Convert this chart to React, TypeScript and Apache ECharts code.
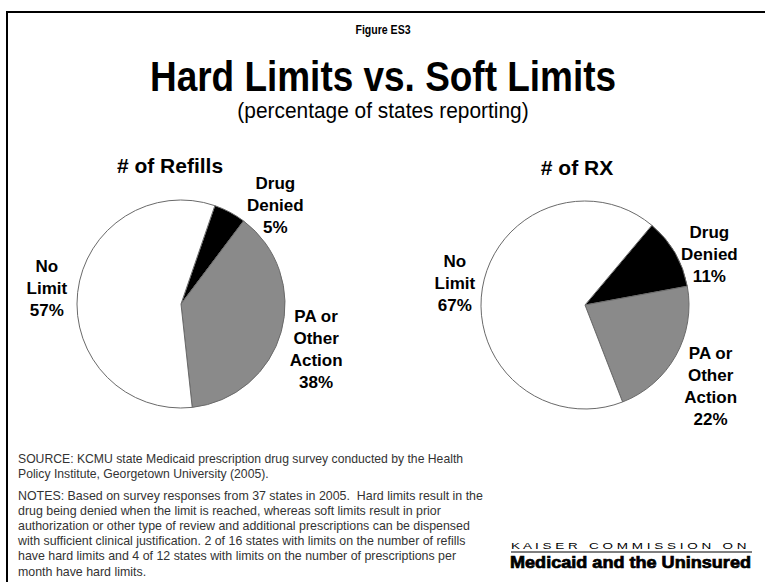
import React, { useEffect, useRef } from "react";
import * as echarts from "echarts";

const categories = ["Drug Denied", "PA or Other Action", "No Limit"];
const labelNames = ["Drug\nDenied", "PA or\nOther\nAction", "No\nLimit"];
const refillsValues = [5, 38, 57];
const rxValues = [11, 22, 67];
const pieTitles = ["# of Refills", "# of RX"];
const sliceColors = ["#000000", "#8a8a8a", "#ffffff"];

const figureLabel = "Figure ES3";
const mainTitle = "Hard Limits vs. Soft Limits";
const subTitle = "(percentage of states reporting)";

const sourceLines = [
  "SOURCE: KCMU state Medicaid prescription drug survey conducted by the Health",
  "Policy Institute, Georgetown University (2005).",
];
const notesLines = [
  "NOTES: Based on survey responses from 37 states in 2005.  Hard limits result in the",
  "drug being denied when the limit is reached, whereas soft limits result in prior",
  "authorization or other type of review and additional prescriptions can be dispensed",
  "with sufficient clinical justification. 2 of 16 states with limits on the number of refills",
  "have hard limits and 4 of 12 states with limits on the number of prescriptions per",
  "month have hard limits.",
];
const logoTop = "K A I S E R   C O M M I S S I O N   O N";
const logoBottom = "Medicaid and the Uninsured";

const SANS = "'Liberation Sans', Arial, Helvetica, sans-serif";

const pies = [
  { center: [181, 304], startClock: 19, values: refillsValues, nudges: [[30, 22], [3, 9], [2, 0]] },
  { center: [585, 305], startClock: 40, values: rxValues, nudges: [[6, 18], [6, 15], [5, 1]] },
];
const R = 104;
const LABEL_R = 137;

export default function App() {
  const ref = useRef<HTMLDivElement>(null);
  useEffect(() => {
    document.body.style.margin = "0";
    const chart = echarts.init(ref.current!, null, { renderer: "svg" });
    const series = pies.map((p) => {
      const total = p.values.reduce((a, b) => a + b, 0);
      return {
        type: "pie",
        center: p.center,
        radius: R,
        startAngle: 90 - p.startClock,
        clockwise: true,
        avoidLabelOverlap: false,
        silent: true,
        data: categories.map((c, i) => ({
          name: c,
          value: p.values[i],
          itemStyle: { color: sliceColors[i] },
        })),
        itemStyle: { borderColor: "#6a6a6a", borderWidth: 1 },
        label: {
          show: true,
          position: "outside",
          formatter: (prm: any) => `${labelNames[prm.dataIndex]}\n${prm.value}%`,
          fontFamily: SANS,
          fontWeight: "bold",
          fontSize: 17,
          lineHeight: 22,
          color: "#000",
          align: "center",
        },
        labelLine: { show: false },
        labelLayout: (params: any) => {
          const idx = params.dataIndex;
          const cum = p.values.slice(0, idx).reduce((a, b) => a + b, 0);
          const mid = p.startClock + ((cum + p.values[idx] / 2) / total) * 360;
          const rad = (mid * Math.PI) / 180;
          return {
            x: p.center[0] + LABEL_R * Math.sin(rad) + p.nudges[idx][0],
            y: p.center[1] - LABEL_R * Math.cos(rad) + p.nudges[idx][1],
            align: "center",
            verticalAlign: "middle",
          };
        },
      };
    });

    const option: any = {
      animation: false,
      backgroundColor: "#ffffff",
      series,
      graphic: [
        { type: "line", shape: { x1: 6, y1: 12, x2: 765, y2: 12 }, style: { stroke: "#000", lineWidth: 2 } },
        { type: "line", shape: { x1: 7, y1: 11, x2: 7, y2: 582 }, style: { stroke: "#000", lineWidth: 2 } },
        {
          type: "text", x: 383, y: 30, scaleX: 0.88,
          style: { text: figureLabel, font: `bold 12px ${SANS}`, fill: "#000", align: "center", verticalAlign: "middle" },
        },
        {
          type: "text", x: 383, y: 76, scaleX: 0.88,
          style: { text: mainTitle, font: `bold 42px ${SANS}`, fill: "#000", align: "center", verticalAlign: "middle" },
        },
        {
          type: "text", x: 383, y: 111, scaleX: 0.95,
          style: { text: subTitle, font: `22px ${SANS}`, fill: "#000", align: "center", verticalAlign: "middle" },
        },
        {
          type: "text", x: 170, y: 165,
          style: { text: pieTitles[0], font: `bold 21px ${SANS}`, fill: "#000", align: "center", verticalAlign: "middle" },
        },
        {
          type: "text", x: 577, y: 167,
          style: { text: pieTitles[1], font: `bold 21px ${SANS}`, fill: "#000", align: "center", verticalAlign: "middle" },
        },
        {
          type: "text", x: 18, y: 451,
          style: { text: sourceLines.join("\n"), font: `12.2px ${SANS}`, lineHeight: 15, fill: "#333", align: "left", verticalAlign: "top" },
        },
        {
          type: "text", x: 18, y: 488,
          style: { text: notesLines.join("\n"), font: `12.4px ${SANS}`, lineHeight: 15.2, fill: "#333", align: "left", verticalAlign: "top" },
        },
        {
          type: "text", x: 511, y: 546, scaleX: 1.5,
          style: { text: logoTop, font: `9px ${SANS}`, fill: "#000", align: "left", verticalAlign: "middle" },
        },
        { type: "line", shape: { x1: 511, y1: 552, x2: 752, y2: 552 }, style: { stroke: "#000", lineWidth: 1 } },
        {
          type: "text", x: 510, y: 563, scaleX: 1.13,
          style: { text: logoBottom, font: `900 16px ${SANS}`, fill: "#000", stroke: "#000", lineWidth: 0.7, align: "left", verticalAlign: "middle" },
        },
      ],
    };
    chart.setOption(option);
    return () => chart.dispose();
  }, []);
  return (
    <div
      ref={ref}
      style={{ position: "fixed", left: 0, top: 0, width: 765, height: 582, background: "#fff" }}
    />
  );
}
